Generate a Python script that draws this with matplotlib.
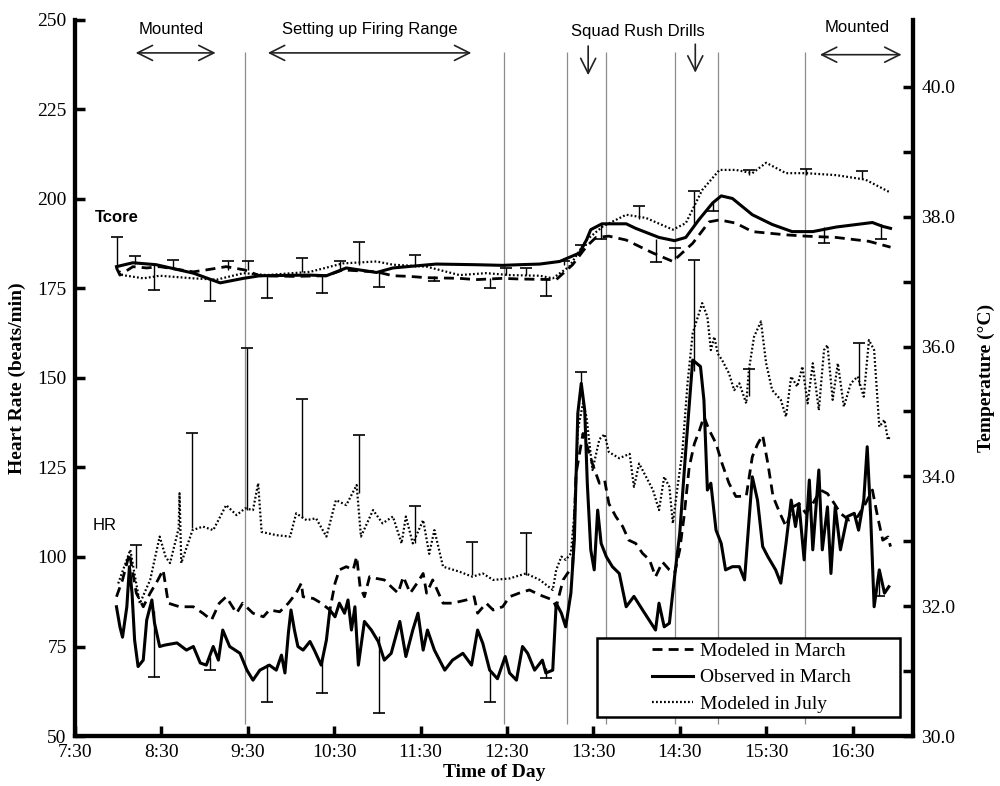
import numpy as np
import matplotlib
matplotlib.use("Agg")
import matplotlib.pyplot as plt
from matplotlib.patches import Rectangle
from matplotlib.ticker import FixedLocator, FuncFormatter

# ---- datos: frecuencia cardiaca (lpm), tiempo en horas decimales ----
hr_obs_t = [7.98, 8.02, 8.05, 8.10, 8.13, 8.16, 8.19, 8.23, 8.29, 8.33, 8.39, 8.42, 8.48, 8.54,
            8.68, 8.79, 8.87, 8.95, 9.02, 9.10, 9.16, 9.21, 9.29, 9.41, 9.49, 9.56, 9.64,
            9.75, 9.83, 9.89, 9.93, 9.97, 10.0, 10.04, 10.08, 10.14, 10.22, 10.27, 10.35, 10.41,
            10.45, 10.51, 10.56, 10.62, 10.66, 10.70, 10.74, 10.78, 10.85, 10.93, 11.01, 11.08,
            11.16, 11.26, 11.33, 11.41, 11.47, 11.53, 11.58, 11.66, 11.78, 11.87, 11.99, 12.09,
            12.16, 12.22, 12.30, 12.39, 12.48, 12.53, 12.61, 12.68, 12.74, 12.82, 12.91, 12.95,
            13.03, 13.07, 13.13, 13.18, 13.24, 13.28, 13.32, 13.36, 13.40, 13.43, 13.47, 13.51,
            13.55, 13.59, 13.65, 13.72, 13.80, 13.88, 13.97, 14.07, 14.17, 14.22, 14.26, 14.32,
            14.38, 14.44, 14.50, 14.57, 14.65, 14.74, 14.78, 14.82, 14.86, 14.92, 14.98, 15.03,
            15.11, 15.19, 15.25, 15.34, 15.40, 15.46, 15.52, 15.61, 15.67, 15.73, 15.79, 15.84,
            15.88, 15.94, 16.0, 16.04, 16.11, 16.15, 16.21, 16.25, 16.30, 16.36, 16.44, 16.52,
            16.57, 16.63, 16.67, 16.71, 16.75, 16.81, 16.87, 16.92]
hr_obs = [86.1, 80.5, 77.6, 86.1, 97.3, 90.0, 76.8, 69.4, 71.2, 82.4, 88.0, 81.6, 75.0, 75.4,
          76.0, 74.0, 75.0, 70.4, 69.8, 75.0, 71.2, 79.6, 75.0, 73.1, 68.4, 65.6, 68.4,
          69.8, 68.4, 72.6, 67.6, 78.8, 85.2, 79.6, 75.0, 74.0, 76.4, 74.0, 69.8, 76.8,
          85.2, 83.3, 87.1, 84.3, 88.0, 79.6, 86.1, 69.8, 82.0, 79.6, 76.4, 71.2,
          73.1, 82.0, 72.2, 79.6, 84.3, 74.0, 79.6, 74.0, 68.4, 71.2, 73.1, 69.8,
          79.6, 75.9, 68.4, 66.0, 72.2, 67.6, 65.6, 75.0, 73.1, 68.4, 71.2, 67.6,
          68.4, 87.1, 84.3, 80.5, 89.9, 104.7, 140.1, 148.5, 141.0, 120.6, 102.0, 96.4,
          113.1, 103.8, 100.1, 97.3, 95.4, 86.1, 89.0, 85.2, 81.5, 79.6, 87.1, 80.5,
          81.5, 94.5, 106.6, 129.9, 155.0, 153.2, 143.8, 118.7, 120.6, 107.5, 103.8, 96.4,
          97.3, 97.3, 93.6, 122.4, 115.9, 102.9, 100.1, 96.4, 92.7, 103.8, 115.9, 108.5,
          114.9, 99.2, 121.5, 102.0, 124.3, 102.0, 114.0, 95.4, 114.0, 102.0, 111.3, 112.2,
          107.5, 115.9, 130.8, 111.3, 86.1, 96.4, 89.9, 91.7]

hr_mar_t = [7.98, 8.05, 8.13, 8.21, 8.29, 8.37, 8.46, 8.52, 8.58, 8.71, 8.87, 8.98, 9.08, 9.17,
            9.25, 9.37, 9.44, 9.56, 9.68, 9.75, 9.87, 9.97, 10.06, 10.12, 10.14, 10.26, 10.35,
            10.45, 10.51, 10.56, 10.64, 10.72, 10.76, 10.80, 10.85, 10.91, 10.99, 11.08, 11.16,
            11.24, 11.30, 11.38, 11.46, 11.53, 11.57, 11.64, 11.76, 11.87, 12.03, 12.12, 12.16,
            12.26, 12.34, 12.45, 12.53, 12.64, 12.76, 12.88, 13.03, 13.07, 13.15, 13.20, 13.26,
            13.30, 13.38, 13.43, 13.49, 13.57, 13.63, 13.68, 13.76, 13.84, 13.91, 13.99, 14.07,
            14.15, 14.22, 14.30, 14.38, 14.44, 14.50, 14.55, 14.61, 14.67, 14.73, 14.78, 14.84,
            14.92, 14.99, 15.07, 15.15, 15.27, 15.34, 15.40, 15.46, 15.52, 15.58, 15.66, 15.73,
            15.81, 15.88, 15.96, 16.04, 16.13, 16.21, 16.29, 16.36, 16.46, 16.56, 16.65, 16.73,
            16.79, 16.85, 16.91, 16.94]
hr_mar = [88.9, 93.6, 101.0, 89.9, 86.1, 89.9, 93.6, 96.4, 87.1, 86.1, 86.1, 84.3, 82.4, 87.1,
          88.9, 84.3, 87.1, 84.3, 83.3, 85.2, 84.7, 87.1, 89.9, 92.7, 88.9, 88.4, 87.1,
          85.2, 92.7, 96.4, 97.3, 96.4, 100.1, 91.7, 88.9, 94.5, 94.0, 93.6, 91.7,
          89.9, 94.5, 89.9, 92.7, 95.4, 89.9, 93.6, 87.1, 87.1, 88.0, 88.9, 84.3,
          87.1, 85.2, 86.1, 88.9, 89.9, 90.8, 89.4, 88.0, 86.1, 93.6, 95.4, 97.3,
          123.3, 134.5, 130.8, 126.0, 120.6, 121.5, 114.9, 111.3, 108.5, 104.7, 103.8, 101.0,
          99.2, 94.5, 98.6, 96.4, 95.4, 102.0, 111.3, 125.2, 131.7, 135.5, 139.2, 135.5,
          131.7, 126.1, 120.6, 116.9, 117.0, 128.0, 131.5, 134.0, 126.1, 116.9, 112.2, 108.5,
          114.0, 114.9, 112.2, 114.9, 118.7, 117.7, 114.9, 112.2, 110.3, 111.3, 114.9, 118.7,
          111.3, 104.7, 105.6, 102.9]

hr_jul_t = [8.0, 8.14, 8.25, 8.37, 8.48, 8.55, 8.60, 8.70, 8.71, 8.73, 8.86, 8.98, 9.10, 9.25,
            9.37, 9.47, 9.56, 9.62, 9.66, 9.83, 9.99, 10.06, 10.18, 10.29, 10.41, 10.52, 10.64,
            10.76, 10.81, 10.95, 11.06, 11.18, 11.28, 11.33, 11.41, 11.53, 11.60, 11.66, 11.76,
            11.95, 12.10, 12.22, 12.34, 12.53, 12.72, 12.88, 13.03, 13.07, 13.13, 13.18, 13.24,
            13.28, 13.32, 13.38, 13.42, 13.49, 13.57, 13.63, 13.68, 13.80, 13.92, 13.97, 14.03,
            14.11, 14.19, 14.26, 14.32, 14.38, 14.42, 14.48, 14.53, 14.59, 14.65, 14.71, 14.76,
            14.82, 14.86, 14.90, 14.94, 14.99, 15.07, 15.13, 15.19, 15.27, 15.30, 15.36, 15.44,
            15.50, 15.57, 15.67, 15.73, 15.79, 15.86, 15.92, 15.98, 16.04, 16.11, 16.17, 16.21,
            16.27, 16.33, 16.40, 16.48, 16.56, 16.63, 16.69, 16.75, 16.81, 16.87, 16.91, 16.94]
hr_jul = [92.6, 102.0, 87.0, 93.6, 105.7, 100.0, 98.3, 108.0, 117.8, 98.3, 107.5, 108.5, 107.5, 114.5,
          111.7, 113.6, 113.1, 120.6, 107.0, 106.1, 105.7, 112.2, 110.3, 110.8, 105.7, 115.9, 114.5,
          120.1, 105.7, 113.1, 109.4, 111.3, 103.8, 111.3, 103.8, 110.3, 100.9, 107.5, 97.3,
          95.9, 94.5, 95.4, 93.6, 94.0, 95.4, 93.6, 90.8, 96.4, 100.1, 99.2, 101.0,
          112.2, 135.5, 142.9, 139.2, 124.3, 132.9, 134.3, 129.3, 127.6, 128.8, 119.6, 126.1,
          122.4, 118.7, 113.1, 122.4, 119.6, 109.4, 120.6, 129.3, 148.5, 162.5, 167.1, 170.9,
          167.1, 157.8, 161.5, 156.8, 155.0, 151.3, 146.6, 148.5, 142.9, 152.2, 161.5, 165.8,
          154.1, 146.6, 143.9, 139.2, 150.4, 147.6, 153.2, 142.9, 154.1, 141.0, 157.8, 159.2,
          143.9, 154.1, 142.0, 148.5, 150.4, 144.8, 160.6, 157.8, 136.4, 138.3, 132.7, 134.0]

# ---- datos: temperatura central (°C) ----
tc_obs_t = [7.98, 8.17, 8.44, 8.87, 9.18, 9.45, 9.64, 10.22, 10.41, 10.64, 10.99, 11.18, 11.68,
            12.14, 12.45, 12.64, 12.88, 13.11, 13.34, 13.42, 13.47, 13.60, 13.88, 13.99, 14.26,
            14.44, 14.57, 14.72, 14.88, 14.98, 15.11, 15.34, 15.57, 15.80, 16.04, 16.31, 16.73,
            16.85, 16.94]
tc_obs = [37.23, 37.29, 37.26, 37.13, 36.98, 37.05, 37.09, 37.10, 37.09, 37.21, 37.14, 37.21, 37.27,
          37.26, 37.25, 37.26, 37.27, 37.31, 37.44, 37.64, 37.80, 37.89, 37.89, 37.82, 37.68,
          37.63, 37.68, 37.95, 38.21, 38.32, 38.28, 38.03, 37.88, 37.77, 37.77, 37.84, 37.91,
          37.85, 37.82]

tc_mar_t = [7.98, 8.02, 8.17, 8.33, 8.48, 8.87, 9.02, 9.25, 9.46, 9.64, 10.03, 10.41, 10.60,
            10.99, 11.18, 11.37, 11.57, 11.95, 12.14, 12.45, 12.64, 13.07, 13.26, 13.42, 13.53,
            13.68, 13.88, 14.19, 14.42, 14.65, 14.84, 14.96, 15.15, 15.34, 15.73, 15.96, 16.31,
            16.69, 16.94]
tc_mar = [37.21, 37.10, 37.23, 37.21, 37.23, 37.15, 37.18, 37.23, 37.18, 37.09, 37.08, 37.09, 37.18,
          37.15, 37.09, 37.08, 37.06, 37.05, 37.03, 37.05, 37.04, 37.03, 37.26, 37.54, 37.68,
          37.70, 37.64, 37.44, 37.31, 37.59, 37.92, 37.95, 37.90, 37.77, 37.72, 37.70, 37.68,
          37.62, 37.53]

tc_jul_t = [7.98, 8.05, 8.29, 8.48, 8.87, 9.14, 9.45, 9.72, 10.22, 10.60, 10.99, 11.18, 11.57,
            11.95, 12.26, 12.53, 12.88, 13.03, 13.22, 13.42, 13.61, 13.88, 14.11, 14.42, 14.57,
            14.76, 14.96, 15.15, 15.34, 15.50, 15.73, 15.96, 16.31, 16.65, 16.94]
tc_jul = [37.21, 37.10, 37.05, 37.09, 37.05, 37.03, 37.13, 37.10, 37.15, 37.28, 37.31, 37.26, 37.23,
          37.10, 37.13, 37.10, 37.09, 37.05, 37.23, 37.64, 37.85, 38.03, 37.98, 37.80, 37.90,
          38.41, 38.72, 38.72, 38.67, 38.83, 38.67, 38.67, 38.64, 38.57, 38.37]

# barras de error: tiempo, valor en la curva, extremo con tope
hr_err_t = [8.21, 8.42, 8.86, 9.06, 9.49, 9.72, 10.13, 10.36, 10.79, 11.02, 11.44, 12.10,
            12.30, 12.72, 12.95, 13.36, 14.67, 15.30, 16.57, 16.81]
hr_err_base = [97, 85, 108, 72, 113, 70, 111, 72, 118, 78, 104, 95,
               68, 95, 69, 147, 152, 145, 148, 96]
hr_err_tip = [103.4, 66.6, 134.6, 68.4, 158.3, 59.6, 144.0, 62.1, 134.1, 56.3, 114.2, 104.3,
              59.4, 106.7, 66.1, 151.8, 183.0, 152.4, 159.7, 89.0]

tc_err_t = [7.99, 8.19, 8.42, 8.63, 9.06, 9.27, 9.50, 9.72, 10.13, 10.36, 10.57, 10.79, 11.02,
            11.44, 11.65, 12.30, 12.49, 12.72, 12.95, 13.16, 13.36, 13.59, 14.03, 14.22, 14.45,
            14.67, 14.89, 15.30, 15.96, 16.17, 16.61, 16.83]
tc_err_base = [37.23, 37.27, 37.26, 37.20, 37.05, 37.18, 37.18, 37.09, 37.15, 37.09, 37.18, 37.25,
               37.14, 37.22, 37.08, 37.05, 37.10, 37.10, 37.06, 37.25, 37.45, 37.88, 37.97, 37.66,
               37.35, 37.85, 38.21, 38.64, 38.64, 37.84, 38.58, 37.89]
tc_err_tip = [37.68, 37.40, 36.87, 37.34, 36.70, 37.32, 37.32, 36.74, 37.36, 36.82, 37.32, 37.61,
              36.92, 37.41, 37.01, 36.90, 37.21, 37.21, 36.78, 37.31, 37.57, 37.65, 38.16, 37.30,
              37.51, 38.40, 38.09, 38.72, 38.73, 37.59, 38.71, 37.65]

# lineas verticales de las fases
fases = [9.465, 12.46, 13.20, 13.65, 14.45, 14.945, 15.95]

tick_horas = [7.5, 8.5, 9.5, 10.5, 11.5, 12.5, 13.5, 14.5, 15.5, 16.5]
tick_textos = ["7:30", "8:30", "9:30", "10:30", "11:30", "12:30", "13:30", "14:30", "15:30", "16:30"]

serif = "Liberation Serif"
sans = "Liberation Sans"

fig = plt.figure(figsize=(10, 7.86), dpi=100)
ax = fig.add_axes([0.075, 0.0636, 0.838, 0.911])
ax2 = ax.twinx()

estilo_dash = (0, (3.6, 2.2))
estilo_dot = (0, (0.8, 1.0))

ax.vlines(fases, 53.4, 241, colors="#8c8c8c", lw=0.9, zorder=1)

ax.plot(hr_mar_t, hr_mar, color="k", lw=2.0, ls=estilo_dash, label="Modeled in March")
ax.plot(hr_obs_t, hr_obs, color="k", lw=2.2, label="Observed in March")
ax.plot(hr_jul_t, hr_jul, color="k", lw=1.6, ls=estilo_dot, label="Modeled in July")

ax2.plot(tc_mar_t, tc_mar, color="k", lw=2.0, ls=estilo_dash)
ax2.plot(tc_obs_t, tc_obs, color="k", lw=2.2)
ax2.plot(tc_jul_t, tc_jul, color="k", lw=1.6, ls=estilo_dot)

# barras de error con un solo tope
ax.vlines(hr_err_t, hr_err_base, hr_err_tip, colors="k", lw=1.0)
ax.plot(hr_err_t, hr_err_tip, ls="none", marker="_", ms=9, mew=1.2, color="k")
ax2.vlines(tc_err_t, tc_err_base, tc_err_tip, colors="k", lw=1.0)
ax2.plot(tc_err_t, tc_err_tip, ls="none", marker="_", ms=9, mew=1.2, color="k")

# ejes
ax.set_xlim(7.5, 17.2)
ax.set_ylim(50, 250)
ax2.set_ylim(30, 41.03)
ax.set_xticks(tick_horas)
ax.set_xticklabels(tick_textos)
ax.set_yticks(np.arange(50, 251, 25))
ax2.yaxis.set_major_locator(FixedLocator(np.arange(30, 41, 1.0)))
ax2.yaxis.set_major_formatter(FuncFormatter(lambda v, p: f"{v:.1f}" if int(round(v)) % 2 == 0 else ""))

for a in (ax, ax2):
    a.spines["top"].set_visible(False)
    for s in ("left", "right", "bottom"):
        a.spines[s].set_linewidth(3.0)
    a.tick_params(direction="in", length=7, width=2.5, labelsize=14, pad=6)
    for lab in a.get_xticklabels() + a.get_yticklabels():
        lab.set_fontfamily(serif)

ax.set_xlabel("Time of Day", fontsize=14, fontweight="bold", fontfamily=serif, labelpad=2)
ax.set_ylabel("Heart Rate (beats/min)", fontsize=14, fontweight="bold", fontfamily=serif, labelpad=8)
ax2.set_ylabel("Temperature (\u00b0C)", fontsize=14, fontweight="bold", fontfamily=serif, labelpad=16)

# anotaciones
flecha = dict(arrowstyle="<->,head_length=0.6,head_width=0.3", lw=1.2, color="#222222", mutation_scale=18)
abajo = dict(arrowstyle="->,head_length=0.6,head_width=0.3", lw=1.2, color="#222222", mutation_scale=18)
ax.annotate("", xy=(8.17, 240.8), xytext=(9.16, 240.8), arrowprops=flecha)
ax.annotate("", xy=(9.70, 240.8), xytext=(12.12, 240.8), arrowprops=flecha)
ax.annotate("", xy=(16.09, 240.3), xytext=(17.10, 240.3), arrowprops=flecha)
ax.annotate("", xy=(13.44, 233.8), xytext=(13.44, 243.5), arrowprops=abajo)
ax.annotate("", xy=(14.68, 234.5), xytext=(14.68, 244.0), arrowprops=abajo)
ax.text(8.61, 247.2, "Mounted", ha="center", va="center", fontsize=12, fontfamily=sans)
ax.text(10.91, 247.2, "Setting up Firing Range", ha="center", va="center", fontsize=12, fontfamily=sans)
ax.text(14.01, 246.8, "Squad Rush Drills", ha="center", va="center", fontsize=12, fontfamily=sans)
ax.text(16.55, 247.8, "Mounted", ha="center", va="center", fontsize=12, fontfamily=sans)
ax.text(7.73, 194.7, "Tcore", ha="left", va="center", fontsize=12, fontweight="bold", fontfamily=sans)
ax.text(7.70, 108.7, "HR", ha="left", va="center", fontsize=12, fontfamily=sans)

# leyenda: marco ancho propio y entradas centradas dentro
marco = Rectangle((0.623, 0.0265), 0.361, 0.1105, transform=ax2.transAxes,
                  facecolor="white", edgecolor="k", lw=1.8, zorder=5)
ax2.add_patch(marco)
handles, labels = ax.get_legend_handles_labels()
leg = ax2.legend(handles, labels, loc="center", bbox_to_anchor=(0.807, 0.0815),
                 prop={"family": serif, "size": 14}, frameon=False,
                 handlelength=2.1, labelspacing=0.45, handletextpad=0.35,
                 borderpad=0, borderaxespad=0)
leg.set_zorder(6)

fig.savefig("out.png", dpi=100)
